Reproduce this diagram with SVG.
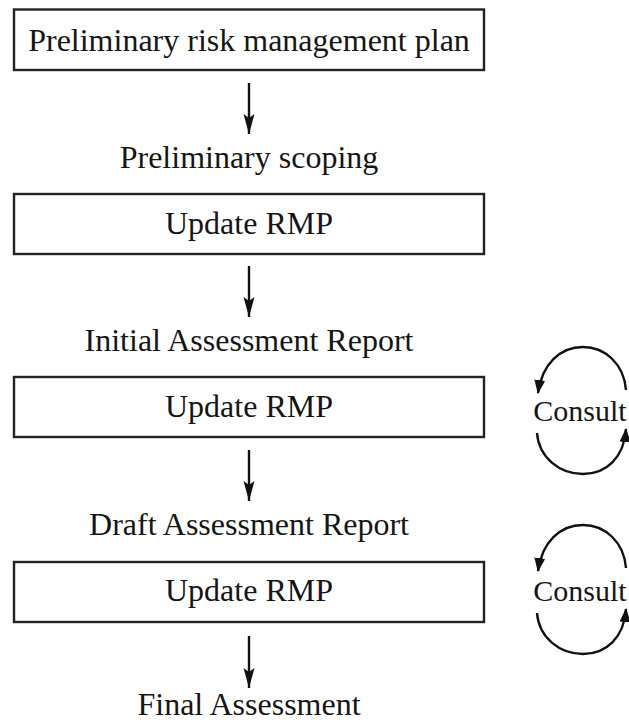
<svg xmlns="http://www.w3.org/2000/svg" width="629" height="724" viewBox="0 0 629 724">
  <defs>
    <marker id="head" viewBox="0 0 20 12" refX="20" refY="6" markerWidth="20" markerHeight="12" markerUnits="userSpaceOnUse" orient="auto">
      <path d="M0,0.5 L20,6 L0,11.5 L4,6 Z" fill="#111"/>
    </marker>
    <marker id="curlhead" viewBox="0 0 14 12" refX="13" refY="6" markerWidth="14" markerHeight="12" markerUnits="userSpaceOnUse" orient="auto">
      <path d="M0,0.5 L14,6 L0,11.5 Z" fill="#111"/>
    </marker>
  </defs>
  <style>
    .box { fill: #fff; stroke: #222; stroke-width: 2.4; }
    .t { font-family: "Liberation Serif", "Times New Roman", serif; font-size: 32px; fill: #151515; text-anchor: middle; }
    .c { font-family: "Liberation Serif", "Times New Roman", serif; font-size: 30px; fill: #151515; text-anchor: middle; }
    .arrow { fill: none; stroke: #111; stroke-width: 2.4; marker-end: url(#head); }
    .curl { fill: none; stroke: #111; stroke-width: 2.4; marker-end: url(#curlhead); }
  </style>

  <rect width="629" height="724" fill="#fff"/>

  <g id="plan">
    <rect class="box" x="14" y="9.5" width="470" height="60.5"/>
    <text class="t" x="249" y="51">Preliminary risk management plan</text>
  </g>

  <g id="scoping">
    <text class="t" x="249" y="168">Preliminary scoping</text>
  </g>

  <g id="update1">
    <rect class="box" x="14" y="194" width="470" height="60"/>
    <text class="t" x="249" y="234">Update RMP</text>
  </g>

  <g id="initial-report">
    <text class="t" x="249" y="351">Initial Assessment Report</text>
  </g>

  <g id="update2">
    <rect class="box" x="14" y="377" width="470" height="60"/>
    <text class="t" x="249" y="417">Update RMP</text>
  </g>

  <g id="draft-report">
    <text class="t" x="249" y="535">Draft Assessment Report</text>
  </g>

  <g id="update3">
    <rect class="box" x="14" y="562" width="470" height="60"/>
    <text class="t" x="249" y="601">Update RMP</text>
  </g>

  <g id="final">
    <text class="t" x="249" y="715">Final Assessment</text>
  </g>

  <g id="consult1">
    <text class="c" x="580" y="421">Consult</text>
  </g>

  <g id="consult2">
    <text class="c" x="580" y="601">Consult</text>
  </g>

  <g id="connectors">
    <line class="arrow" x1="249" y1="83" x2="249" y2="134"/>
    <line class="arrow" x1="249" y1="266" x2="249" y2="317"/>
    <line class="arrow" x1="249" y1="450" x2="249" y2="501"/>
    <line class="arrow" x1="249" y1="636" x2="249" y2="688"/>

    <!-- consult loop beside the second update -->
    <path class="curl" d="M626,390 C624,364 605,347 583,347 C560,347 542,364 538,393"/>
    <path class="curl" d="M537,433 C539,458 560,474 583,474 C606,474 624,458 626,429"/>

    <!-- consult loop beside the third update -->
    <path class="curl" d="M626,568 C624,542 605,525 583,525 C560,525 542,542 538,571"/>
    <path class="curl" d="M537,613 C539,638 560,654 583,654 C606,654 624,638 626,609"/>
  </g>
</svg>
